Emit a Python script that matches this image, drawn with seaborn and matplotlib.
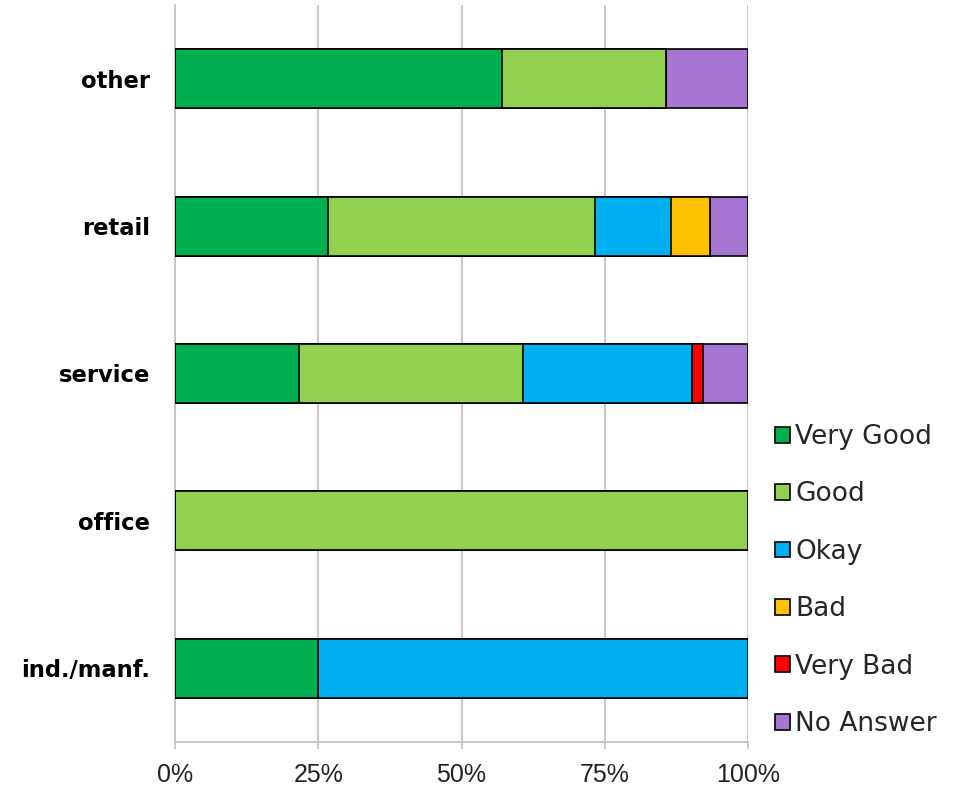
import matplotlib
matplotlib.use("Agg")
import matplotlib.pyplot as plt
from matplotlib.patches import Patch
import seaborn as sns
import pandas as pd
import numpy as np

categories = ["other", "retail", "service", "office", "ind./manf."]
series = ["Very Good", "Good", "Okay", "Bad", "Very Bad", "No Answer"]
very_good = [57.1, 26.7, 21.6, 0.0, 25.0]
good = [28.6, 46.6, 39.2, 100.0, 0.0]
okay = [0.0, 13.3, 29.4, 0.0, 75.0]
bad = [0.0, 6.7, 0.0, 0.0, 0.0]
very_bad = [0.0, 0.0, 2.0, 0.0, 0.0]
no_answer = [14.3, 6.7, 7.8, 0.0, 0.0]
colors = ["#00B050", "#92D050", "#00B0F0", "#FFC000", "#FF0000", "#A776D2"]
xticks = [0, 25, 50, 75, 100]
xticklabels = ["0%", "25%", "50%", "75%", "100%"]

values = np.array([very_good, good, okay, bad, very_bad, no_answer])
cum = np.cumsum(values, axis=0)

sns.set_theme(style="white")
plt.rcParams["font.family"] = ["Liberation Sans", "DejaVu Sans"]

fig = plt.figure(figsize=(9.58, 7.91), dpi=100)
ax = fig.add_axes([175 / 958, 1 - 742 / 791, 573 / 958, 737 / 791])

# stacked bars: draw cumulative totals from the last series back to the first
for i in range(len(series) - 1, -1, -1):
    df = pd.DataFrame({"category": categories, "value": cum[i]})
    sns.barplot(data=df, x="value", y="category", order=categories,
                orient="h", color=colors[i], saturation=1, width=0.4,
                edgecolor="black", linewidth=1.2, ax=ax, zorder=3)

ax.set_xlim(0, 100)
ax.set_ylim(4.5, -0.5)
ax.set_xlabel("")
ax.set_ylabel("")
ax.set_xticks(xticks)
ax.set_xticklabels(xticklabels, family=["Liberation Sans Narrow", "Liberation Sans", "DejaVu Sans"],
                   fontsize=18, color="#222222")
ax.set_yticks(range(len(categories)))
ax.set_yticklabels(categories, family=["DejaVu Sans"], fontsize=16.3, fontweight="bold", color="black")
ax.tick_params(axis="y", length=0, pad=18)
ax.tick_params(axis="x", length=5, width=1.2, color="#BFBFBF", pad=10, direction="out", bottom=True)
ax.xaxis.grid(True, color="#BFBFBF", linewidth=1.2, zorder=0)
ax.yaxis.grid(False)
for s in ["top", "right"]:
    ax.spines[s].set_visible(False)
ax.spines["left"].set_color("#BFBFBF")
ax.spines["left"].set_linewidth(1.2)
ax.spines["bottom"].set_color("#BFBFBF")
ax.spines["bottom"].set_linewidth(1.2)
ax.set_axisbelow(True)

handles = [Patch(facecolor=c, edgecolor="black", linewidth=1.2) for c in colors]
fig.legend(handles, series, loc="upper left", bbox_to_anchor=(775 / 958, 1 - 424 / 791),
           frameon=False, prop={"family": ["DejaVu Sans"], "size": 19},
           handlelength=0.55, handleheight=0.55, handletextpad=0.22,
           labelspacing=1.19, borderaxespad=0, borderpad=0)

fig.savefig("out.png", dpi=100)
